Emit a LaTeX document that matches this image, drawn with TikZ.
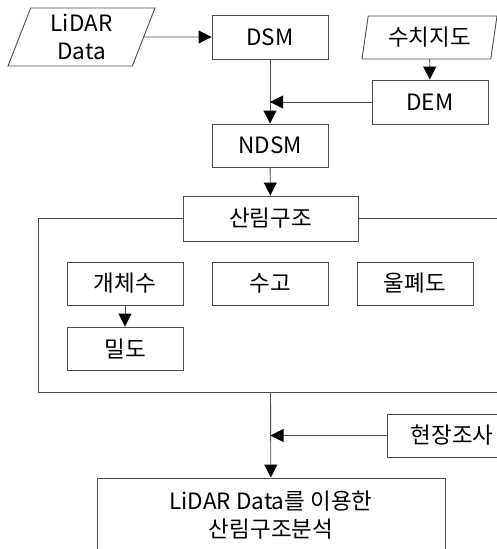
\documentclass[tikz,border=0pt]{standalone}
\usepackage{fontspec}
\setmainfont{Noto Sans CJK KR}
\usetikzlibrary{shapes.geometric,arrows.meta}

\tikzset{
  box/.style={draw=black!70, line width=0.9pt, fill=white, rectangle,
    minimum width=116pt, minimum height=44pt, inner sep=0pt, align=center},
  iobox/.style={draw=black!70, line width=0.9pt, trapezium,
    trapezium stretches body, inner sep=0pt, align=center},
  flow/.style={draw=black!70, line width=0.9pt, -{Triangle[length=13pt,width=13pt,color=black]}},
  plain/.style={draw=black!70, line width=0.9pt}
}

\begin{document}
\begin{tikzpicture}[x=1pt,y=-1pt,font=\fontsize{22.5}{27.5}\selectfont]
  \useasboundingbox (0,0) rectangle (497,549);
  \clip (0,0) rectangle (497,549);

  % inputs
  \node[iobox, trapezium left angle=63.4, trapezium right angle=116.6,
        minimum width=147pt, minimum height=58pt] (lidar) at (81.5,37) {LiDAR\\Data};
  \node[box] (dsm) at (270,37) {DSM};
  \node[iobox, trapezium left angle=73, trapezium right angle=107,
        minimum width=135pt, minimum height=43pt] (map) at (429.5,37.5) {수치지도};
  \node[box] (dem) at (430,102) {DEM};
  \node[box, minimum height=43pt] (ndsm) at (270,145.5) {NDSM};

  % forest structure group
  \node[box, minimum width=482pt, minimum height=174pt, fill=none] (frame) at (279,305) {};
  \node[box, minimum width=175pt, minimum height=45pt] (forest) at (270.5,218.5) {산림구조};
  \node[box, minimum height=43pt] (count) at (125,283.5) {개체수};
  \node[box, minimum height=43pt] (tree) at (270,283.5) {수고};
  \node[box, minimum height=43pt] (canopy) at (415,283.5) {울폐도};
  \node[box, minimum height=43pt] (density) at (125,348.5) {밀도};

  \node[box, minimum width=130pt, minimum height=43pt] (survey) at (452,435.5) {현장조사};
  \node[box, minimum width=348pt, minimum height=74pt] (result) at (271,515)
        {LiDAR Data를 이용한\\산림구조분석};

  \coordinate (j1) at (dsm.south |- dem.west);
  \coordinate (fbot) at (forest.south |- frame.south);
  \coordinate (j2) at (fbot |- survey.west);

  \draw[flow] (lidar) -- (dsm);
  \draw[flow] (map) -- (dem);
  \draw[flow] (dsm) -- (ndsm);
  \draw[flow] (dem) -- (j1);
  \draw[flow] (ndsm) -- (forest);
  \draw[flow] (count) -- (density);
  \draw[flow] (fbot) -- (result);
  \draw[flow] (survey) -- (j2);
\end{tikzpicture}
\end{document}
